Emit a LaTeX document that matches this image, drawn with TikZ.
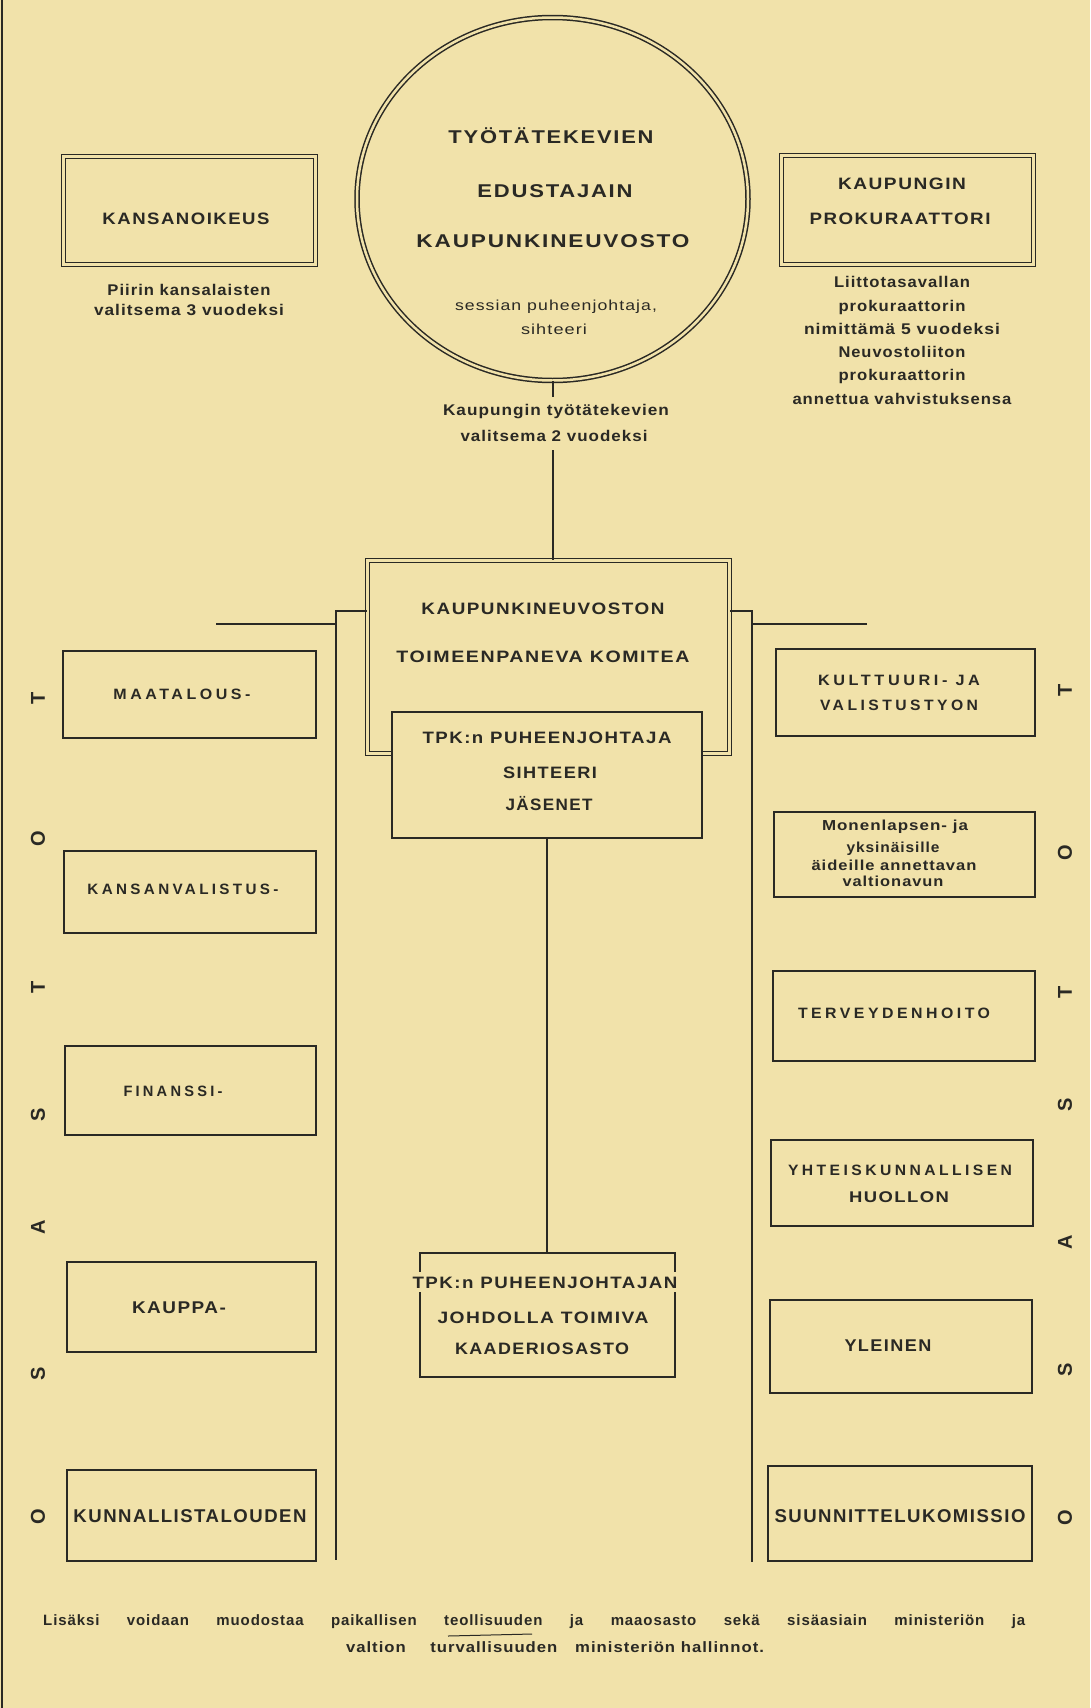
\documentclass[tikz,border=0pt]{standalone}
\usepackage{fontspec}
\usepackage{graphicx}
\setmainfont{Liberation Sans}
\newfontfamily\capf[LetterSpace=8]{Liberation Sans}
\newfontfamily\wcapf[LetterSpace=22]{Liberation Sans}
\newfontfamily\lowf[LetterSpace=6]{Liberation Sans}
\usetikzlibrary{shapes.geometric}
\definecolor{paper}{HTML}{F1E2AA}
\definecolor{ink}{HTML}{2A2924}
\newcommand\fitto[2]{\resizebox{#1pt}{\height}{#2}}
\newcommand\fs[1]{\fontsize{#1}{#1}\selectfont}
\tikzset{
  lab/.style={inner sep=0pt, text=ink, font=\bfseries},
  boxx/.style={draw=ink, line width=1.8pt, inner sep=0pt},
  dboxx/.style={draw=ink, line width=1.5pt, double=paper, double distance=2.5pt, inner sep=0pt},
  conn/.style={draw=ink, line width=2pt},
  vlet/.style={inner sep=0pt, text=ink, rotate=90, font=\bfseries\fs{20}},
}
\begin{document}
\begin{tikzpicture}[x=1pt,y=-1pt]
\fill[paper] (0,0) rectangle (1090,1708);
\useasboundingbox (0,0) rectangle (1090,1708);
\draw[ink, line width=2pt] (2,0) -- (2,1708);

% top row
\node[dboxx, minimum width=252pt, minimum height=108pt] (kans) at (189.5,210.5) {};
\node[dboxx, minimum width=252pt, minimum height=109pt] (prok) at (907.5,210) {};
\node[dboxx, ellipse, minimum width=391pt, minimum height=363pt] (council) at (552.5,199) {};

\node[lab,anchor=base] (tkans) at (186,224) {\capf\fs{16.5}\fitto{167}{KANSANOIKEUS}};
\node[lab,anchor=mid] (tpiiri1) at (189,293) {\lowf\fs{15.5}\fitto{163}{Piirin kansalaisten}};
\node[lab,anchor=mid] (tpiiri2) at (189,313) {\lowf\fs{15.5}\fitto{190}{valitsema 3 vuodeksi}};

\node[lab,anchor=base] (ttyo) at (551,143.5) {\capf\fs{18.5}\fitto{205}{TYÖTÄTEKEVIEN}};
\node[lab,anchor=base] (tedu) at (555,197.5) {\capf\fs{18.5}\fitto{155}{EDUSTAJAIN}};
\node[lab,anchor=base] (tkau) at (553,247.5) {\capf\fs{18.5}\fitto{273}{KAUPUNKINEUVOSTO}};
\node[lab,anchor=mid,font=\mdseries] (tsess) at (556,308) {\lowf\fs{14.5}\fitto{202}{sessian puheenjohtaja,}};
\node[lab,anchor=mid,font=\mdseries] (tsiht) at (554,332) {\lowf\fs{14.5}\fitto{66}{sihteeri}};

\node[lab,anchor=base] (tkpg) at (902,189) {\capf\fs{16.5}\fitto{128}{KAUPUNGIN}};
\node[lab,anchor=base] (tprok) at (900,224) {\capf\fs{16.5}\fitto{181}{PROKURAATTORI}};
\node[lab,anchor=mid] (tr1) at (902,285) {\lowf\fs{15.5}\fitto{136}{Liittotasavallan}};
\node[lab,anchor=mid] (tr2) at (902,309) {\lowf\fs{15.5}\fitto{127}{prokuraattorin}};
\node[lab,anchor=mid] (tr3) at (902,332) {\lowf\fs{15.5}\fitto{196}{nimittämä 5 vuodeksi}};
\node[lab,anchor=mid] (tr4) at (902,355) {\lowf\fs{15.5}\fitto{127}{Neuvostoliiton}};
\node[lab,anchor=mid] (tr5) at (902,378) {\lowf\fs{15.5}\fitto{127}{prokuraattorin}};
\node[lab,anchor=mid] (tr6) at (902,402) {\lowf\fs{15.5}\fitto{219}{annettua vahvistuksensa}};

\node[lab,anchor=mid] (tel1) at (556,413) {\lowf\fs{15.5}\fitto{226}{Kaupungin työtätekevien}};
\node[lab,anchor=mid] (tel2) at (554,439) {\lowf\fs{15.5}\fitto{187}{valitsema 2 vuodeksi}};

% committee
\node[dboxx, minimum width=362pt, minimum height=193pt] (committee) at (548.5,657) {};
\node[boxx, fill=paper, minimum width=310pt, minimum height=126pt] (inner) at (547,775) {};
\node[boxx, minimum width=255pt, minimum height=124pt] (kaader) at (547.5,1315) {};

\node[lab,anchor=base] (tcom1) at (543,614) {\capf\fs{16.5}\fitto{243}{KAUPUNKINEUVOSTON}};
\node[lab,anchor=base] (tcom2) at (543,662) {\capf\fs{16.5}\fitto{293}{TOIMEENPANEVA KOMITEA}};
\node[lab,anchor=base] (tin1) at (547,743) {\capf\fs{16.5}\fitto{249}{TPK:n PUHEENJOHTAJA}};
\node[lab,anchor=base] (tin2) at (550,778) {\capf\fs{16.5}\fitto{94}{SIHTEERI}};
\node[lab,anchor=base] (tin3) at (549,810) {\capf\fs{16.5}\fitto{87}{JÄSENET}};

\node[lab,anchor=base, fill=paper, inner ysep=4pt] (tka1) at (545,1288) {\capf\fs{16.5}\fitto{265}{TPK:n PUHEENJOHTAJAN}};
\node[lab,anchor=base] (tka2) at (543,1323) {\capf\fs{16.5}\fitto{211}{JOHDOLLA TOIMIVA}};
\node[lab,anchor=base] (tka3) at (542,1354) {\capf\fs{16.5}\fitto{174}{KAADERIOSASTO}};

% left column
\node[boxx, minimum width=253pt, minimum height=87pt] (maat) at (189.5,694.5) {};
\node[boxx, minimum width=252pt, minimum height=82pt] (kansv) at (190,892) {};
\node[boxx, minimum width=251pt, minimum height=89pt] (fin) at (190.5,1090.5) {};
\node[boxx, minimum width=249pt, minimum height=90pt] (kauppa) at (191.5,1307) {};
\node[boxx, minimum width=249pt, minimum height=91pt] (kunn) at (191.5,1515.5) {};

\node[lab,anchor=base] (tmaat) at (182,699.5) {\wcapf\fs{15}\fitto{137}{MAATALOUS-}};
\node[lab,anchor=base] (tkansv) at (183,894.5) {\wcapf\fs{15}\fitto{191}{KANSANVALISTUS-}};
\node[lab,anchor=base] (tfin) at (173,1096.5) {\wcapf\fs{15}\fitto{99}{FINANSSI-}};
\node[lab,anchor=base] (tkauppa) at (179,1313) {\capf\fs{17}\fitto{94}{KAUPPA-}};
\node[lab,anchor=base] (tkunn) at (190,1522) {\capf\fs{18.5}\fitto{233}{KUNNALLISTALOUDEN}};

% right column
\node[boxx, minimum width=259pt, minimum height=87pt] (kult) at (905.5,692.5) {};
\node[boxx, minimum width=261pt, minimum height=85pt] (monen) at (904.5,854.5) {};
\node[boxx, minimum width=262pt, minimum height=90pt] (terv) at (904,1016) {};
\node[boxx, minimum width=262pt, minimum height=86pt] (yht) at (902,1183) {};
\node[boxx, minimum width=262pt, minimum height=93pt] (yle) at (901,1346.5) {};
\node[boxx, minimum width=264pt, minimum height=95pt] (suun) at (900,1513.5) {};

\node[lab,anchor=base] (tkult1) at (899,685.5) {\wcapf\fs{15}\fitto{162}{KULTTUURI- JA}};
\node[lab,anchor=base] (tkult2) at (899,710.5) {\wcapf\fs{15}\fitto{158}{VALISTUSTYON}};
\node[lab,anchor=mid] (tmon1) at (895,828) {\lowf\fs{14.5}\fitto{146}{Monenlapsen- ja}};
\node[lab,anchor=mid] (tmon2) at (893,850) {\lowf\fs{14.5}\fitto{93}{yksinäisille}};
\node[lab,anchor=mid] (tmon3) at (894,868) {\lowf\fs{14.5}\fitto{165}{äideille annettavan}};
\node[lab,anchor=mid] (tmon4) at (893,884) {\lowf\fs{14.5}\fitto{101}{valtionavun}};
\node[lab,anchor=base] (tterv) at (894,1018.5) {\wcapf\fs{15}\fitto{192}{TERVEYDENHOITO}};
\node[lab,anchor=base] (tyht1) at (900,1175.5) {\wcapf\fs{15}\fitto{224}{YHTEISKUNNALLISEN}};
\node[lab,anchor=base] (tyht2) at (899,1202.5) {\capf\fs{15.5}\fitto{100}{HUOLLON}};
\node[lab,anchor=base] (tyle) at (888,1351.5) {\capf\fs{17}\fitto{87}{YLEINEN}};
\node[lab,anchor=base] (tsuun) at (900,1522) {\capf\fs{18.5}\fitto{251}{SUUNNITTELUKOMISSIO}};

% vertical OSASTOT letters
\node[vlet] (l1) at (38,698) {T};
\node[vlet] (l2) at (38,839) {O};
\node[vlet] (l3) at (38,987) {T};
\node[vlet] (l4) at (38,1115) {S};
\node[vlet] (l5) at (38,1227) {A};
\node[vlet] (l6) at (38,1374) {S};
\node[vlet] (l7) at (38,1517) {O};
\node[vlet] (r1) at (1065,690) {T};
\node[vlet] (r2) at (1065,853) {O};
\node[vlet] (r3) at (1065,992) {T};
\node[vlet] (r4) at (1065,1105) {S};
\node[vlet] (r5) at (1065,1242) {A};
\node[vlet] (r6) at (1065,1370) {S};
\node[vlet] (r7) at (1065,1518) {O};

% connectors
\coordinate (c1) at (552.5,397);
\coordinate (c2) at (552.5,450);
\draw[conn] (council.south) -- (c1);
\draw[conn] (c2) -- (c2 |- committee.north);
\draw[conn] (inner.south) -- (inner.south |- kaader.north);

\coordinate (lk) at (336,611);
\coordinate (lbot) at (336,1560);
\coordinate (lh) at (216,624);
\coordinate (rk) at (752,611);
\coordinate (rbot) at (752,1562);
\coordinate (rh) at (867,624);
\draw[conn] (committee.west |- lk) -- (lk) -- (lbot);
\draw[conn] (lh) -- (lh -| lk);
\draw[conn] (committee.east |- rk) -- (rk) -- (rbot);
\draw[conn] (rh) -- (rh -| rk);

% footer
\node[lab,anchor=mid west] (f1) at (43,1623) {\lowf\fs{15}\makebox[982pt][s]{Lisäksi voidaan muodostaa paikallisen teollisuuden ja maaosasto sekä sisäasiain ministeriön ja}};
\node[lab,anchor=mid] (f2) at (555,1650) {\lowf\fs{15}\fitto{418}{valtion\hspace{22pt}turvallisuuden\hspace{16pt}ministeriön hallinnot.}};
\draw[ink, line width=1pt] (448,1636) -- (532,1634);
\end{tikzpicture}
\end{document}
